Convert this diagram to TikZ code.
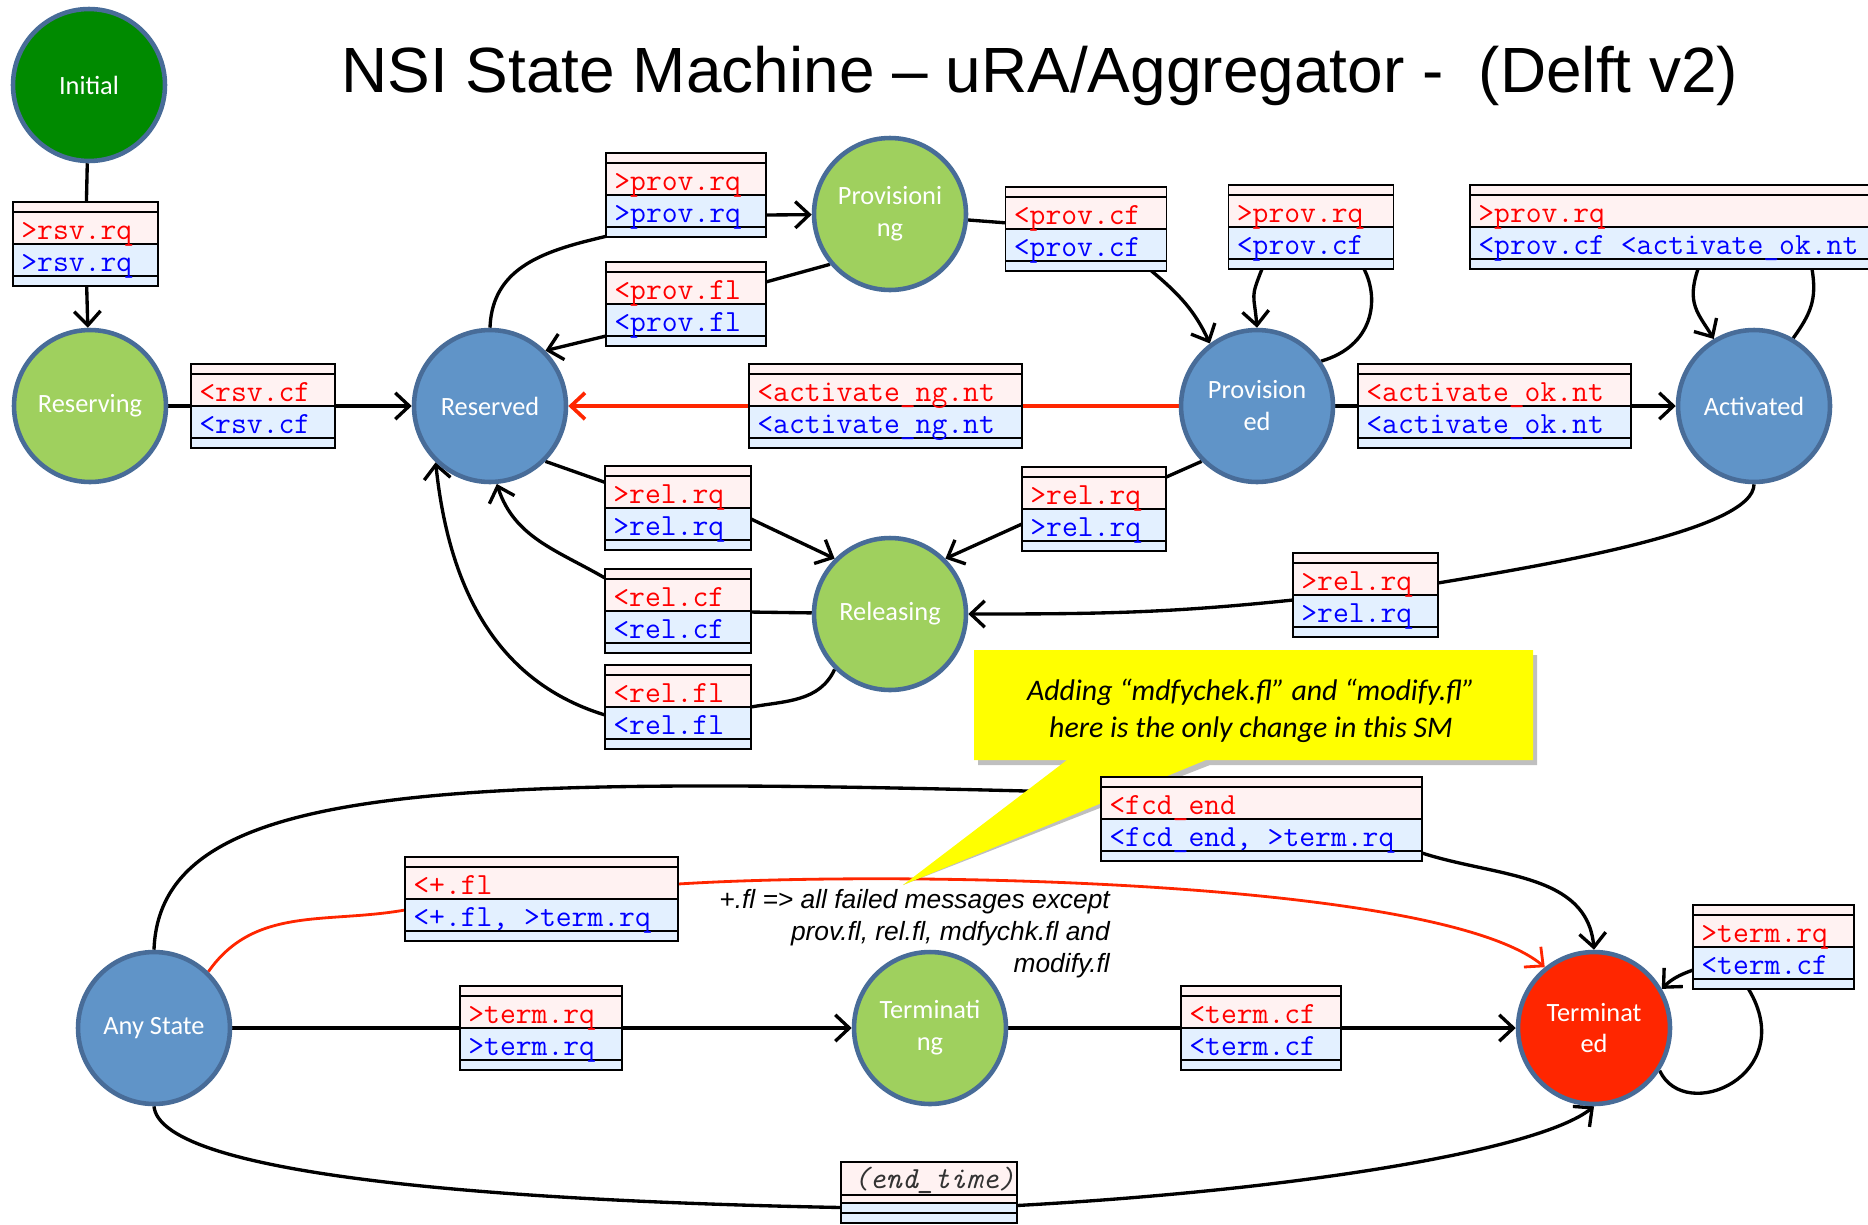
\documentclass[tikz,border=0pt]{standalone}
\usepackage{fontspec}
\setmainfont{Carlito}
\newfontfamily\titlefont{Liberation Sans}
\usetikzlibrary{arrows.meta,calc}

\definecolor{startgreen}{RGB}{0,138,0}
\definecolor{stategreen}{RGB}{159,208,94}
\definecolor{stateblue}{RGB}{96,148,200}
\definecolor{statered}{RGB}{255,38,0}
\definecolor{rim}{RGB}{72,108,152}
\definecolor{msgred}{RGB}{255,0,0}
\definecolor{msgblue}{RGB}{0,0,255}
\definecolor{rowpink}{RGB}{255,242,242}
\definecolor{rowblue}{RGB}{227,240,255}
\definecolor{redline}{RGB}{255,38,0}
\definecolor{notey}{RGB}{255,255,0}

\pgfdeclarelayer{links}
\pgfdeclarelayer{bubble}
\pgfsetlayers{links,bubble,main}

\tikzset{
  state/.style={circle, draw=rim, line width=2.6pt, minimum size=3.04cm, inner sep=0pt,
    text=white, align=center, font=\fontsize{15}{18.2}\selectfont},
  startstate/.style={state, fill=startgreen},
  greenstate/.style={state, fill=stategreen},
  bluestate/.style={state, fill=stateblue},
  redstate/.style={state, fill=statered},
  msgframe/.style={rectangle, inner sep=0pt, outer sep=0pt, minimum height=1.68cm},
  boxline/.style={black, line width=1.1pt},
  boxtxt/.style={anchor=base west, inner sep=0pt, font=\ttfamily\fontsize{17.5}{17.5}\selectfont},
  link/.style={black, line width=1.9pt},
  redlink/.style={redline, line width=2.1pt},
  redthin/.style={redline, line width=1.6pt},
}

% message box: name, centre, width (px), red text, blue text
\newcommand{\msgbox}[5]{%
  \node[msgframe, minimum width=#3*0.02cm] (#1) at (#2) {};
  \fill[rowpink] (#1.north west) rectangle ($(#1.north east)+(0,42)$);
  \fill[rowblue] ($(#1.north west)+(0,42)$) rectangle (#1.south east);
  \draw[boxline] (#1.north west) rectangle (#1.south east);
  \foreach \d in {10,42,74}{\draw[boxline] ($(#1.north west)+(0,\d)$) -- ($(#1.north east)+(0,\d)$);}
  \node[boxtxt, text=msgred] (#1r) at ($(#1.north west)+(8,37)$) {#4};
  \node[boxtxt, text=msgblue] (#1b) at ($(#1.north west)+(8,69)$) {#5};
}

\begin{document}
\begin{tikzpicture}[x=0.02cm, y=-0.02cm, >={Straight Barb[length=8pt,width=15pt]}]
\useasboundingbox (0,0) rectangle (1868,1224);
\clip (0,0) rectangle (1868,1224);

\node[anchor=base, font=\titlefont\fontsize{36.4}{40}\selectfont] (title) at (1040,92)
  {NSI State Machine – uRA/Aggregator -\ \ (Delft v2)};

% states
\node[startstate] (Initial) at (89,85) {Initial};
\node[greenstate] (Reserving) at (90,406) {Reserving};
\node[bluestate] (Reserved) at (490,406) {Reserved};
\node[greenstate] (Provisioning) at (890,214) {Provisioni\\ng};
\node[bluestate] (Provisioned) at (1257,406) {Provision\\ed};
\node[bluestate] (Activated) at (1754,406) {Activated};
\node[greenstate] (Releasing) at (890,614) {Releasing};
\node[bluestate] (AnyState) at (154,1028) {Any State};
\node[greenstate] (Terminating) at (930,1028) {Terminati\\ng};
\node[redstate] (Terminated) at (1594,1028) {Terminat\\ed};

% messages
\msgbox{rsvrq}{85.5,244}{145}{>rsv.rq}{>rsv.rq}
\msgbox{rsvcf}{263,406}{144}{<rsv.cf}{<rsv.cf}
\msgbox{provrq}{686,195}{160}{>prov.rq}{>prov.rq}
\msgbox{provfl}{686,304}{160}{<prov.fl}{<prov.fl}
\msgbox{provcf}{1086,229}{161}{<prov.cf}{<prov.cf}
\msgbox{provloop}{1311,227}{165}{>prov.rq}{<prov.cf}
\msgbox{actloop}{1685,227}{430}{>prov.rq}{<prov.cf <activate\_ok.nt}
\msgbox{actng}{885.5,406}{273}{<activate\_ng.nt}{<activate\_ng.nt}
\msgbox{actok}{1494.5,406}{273}{<activate\_ok.nt}{<activate\_ok.nt}
\msgbox{relrq}{678,508}{146}{>rel.rq}{>rel.rq}
\msgbox{relcf}{678,611}{146}{<rel.cf}{<rel.cf}
\msgbox{relfl}{678,707}{146}{<rel.fl}{<rel.fl}
\msgbox{provrelrq}{1094,509}{144}{>rel.rq}{>rel.rq}
\msgbox{actrelrq}{1365.5,595}{145}{>rel.rq}{>rel.rq}
\msgbox{fcdend}{1261.5,819}{321}{<fcd\_end}{<fcd\_end, >term.rq}
\msgbox{plusfl}{541.5,899}{273}{<+.fl}{<+.fl, >term.rq}
\msgbox{termrq}{541,1028}{162}{>term.rq}{>term.rq}
\msgbox{termcf}{1261,1028}{160}{<term.cf}{<term.cf}
\msgbox{termloop}{1773.5,947}{161}{>term.rq}{<term.cf}

% end time box
\node[msgframe, minimum width=176*0.02cm, minimum height=1.22cm] (endtime) at (929,1192.5) {};
\fill[rowpink] (endtime.north west) rectangle ($(endtime.north east)+(0,41)$);
\fill[rowblue] ($(endtime.north west)+(0,41)$) rectangle (endtime.south east);
\draw[boxline] (endtime.north west) rectangle (endtime.south east);
\foreach \d in {33,41,51}{\draw[boxline] ($(endtime.north west)+(0,\d)$) -- ($(endtime.north east)+(0,\d)$);}
\node[boxtxt, font=\ttfamily\itshape\fontsize{17.5}{17.5}\selectfont, text=black!80] (endtimet)
  at ($(endtime.north west)+(12,26)$) {(end\_time)};

\node[anchor=base east, align=right, font=\titlefont\itshape\fontsize{15}{18.2}\selectfont] (failnote)
  at (1116,972) {+.fl => all failed messages except\\prov.fl, rel.fl, mdfychk.fl and\\modify.fl};

\begin{pgfonlayer}{links}
\draw[link] (Initial) -- (rsvrq);
\draw[link,->] (rsvrq) -- (Reserving);
\draw[link] (Reserving) -- (rsvcf);
\draw[link,->] (rsvcf) -- (Reserved);
%
\draw[link] (Reserved.north) to[out=88,in=200] ($(provrq.center)+(0,20)$);
\draw[link,->] ($(provrq.east)+(0,20)$) -- (Provisioning);
\draw[link] (Provisioning.220) -- (provfl);
\draw[link,->] ($(provfl.south west)+(0,-10)$) -- (Reserved.45);
\draw[link] (Provisioning) -- (provcf);
\draw[link,->] ($(provcf.south east)+(-15,0)$) to[out=-40,in=115] (Provisioned.127);
%
\draw[link] (Provisioned.35) .. controls +(52,-15) and +(16,31) .. ($(provloop.south)+(53,0)$);
\draw[link,->] ($(provloop.south)+(-49,0)$) .. controls +(-12,30) and +(-3,-35) .. (Provisioned.north);
\draw[link] (Activated.60) .. controls +(18,-25) and +(5,30) .. ($(actloop.south)+(127,0)$);
\draw[link,->] ($(actloop.south)+(13,0)$) .. controls +(-12,35) and +(-15,-25) .. (Activated.121);
%
\draw[link] (Provisioned) -- (actok);
\draw[link,->] (actok) -- (Activated);
\draw[redlink] (Provisioned) -- (actng);
\draw[redlink,->] (actng) -- (Reserved);
%
\draw[link] (Reserved.-45) -- (relrq);
\draw[link,->] ($(relrq.east)+(0,11)$) -- (Releasing.135);
\draw[link] (Provisioned.225) -- (provrelrq);
\draw[link,->] ($(provrelrq.west)+(0,15)$) -- (Releasing.45);
\draw[link] (Activated.south) .. controls +(0,45) and +(120,-20) .. ($(actrelrq.east)+(0,-12)$);
\draw[link,->] ($(actrelrq.west)+(0,5)$) to[out=186,in=0] (Releasing.east);
\draw[link] (Releasing) -- (relcf);
\draw[link,->] ($(relcf.west)+(0,-33)$) to[out=150,in=-72] (Reserved.-85);
\draw[link] (Releasing.225) to[out=-115,in=10] (relfl.east);
\draw[link,->] ($(relfl.west)+(0,8)$) to[out=163,in=-84] (Reserved.226);
%
\draw[link] (AnyState.north) .. controls (160,780) and (450,775) .. ($(fcdend.west)+(0,-26)$);
\draw[link,->] ($(fcdend.east)+(0,34)$) to[out=-18,in=95] (Terminated.north);
\draw[redthin] (AnyState.46) to[out=55,in=190] ($(plusfl.west)+(0,11)$);
\draw[redthin,->] ($(plusfl.east)+(0,-15)$) .. controls (900,870) and (1440,880) .. (Terminated.129);
\draw[link] (AnyState) -- (termrq);
\draw[link,->] (termrq) -- (Terminating);
\draw[link] (Terminating) -- (termcf);
\draw[link,->] (termcf) -- (Terminated);
\draw[link] (Terminated.-33) .. controls (1685,1125) and (1800,1075) .. ($(termloop.south)+(-25,0)$);
\draw[link,->] ($(termloop.west)+(0,23)$) to[out=200,in=45] (Terminated.30);
\draw[link] (AnyState.south) .. controls (160,1170) and (450,1200) .. ($(endtime.west)+(0,15)$);
\draw[link,->] ($(endtime.east)+(0,13)$) .. controls (1300,1190) and (1540,1150) .. (Terminated.south);
\end{pgfonlayer}

\begin{pgfonlayer}{bubble}
\coordinate (tip) at (903,885);
\fill[black, opacity=0.25, shift={(4,5)}] (974,650) -- (1533,650) -- (1533,760) -- (1206,760) -- (tip) -- (1067,760) -- (974,760) -- cycle;
\fill[notey] (974,650) -- (1533,650) -- (1533,760) -- (1206,760) -- (tip) -- (1067,760) -- (974,760) -- cycle;
\node[anchor=base, align=center, font=\itshape\fontsize{17}{21}\selectfont] (calloutnote) at (1251,737)
  {Adding “mdfychek.fl” and “modify.fl”\\here is the only change in this SM};
\end{pgfonlayer}
\end{tikzpicture}
\end{document}
